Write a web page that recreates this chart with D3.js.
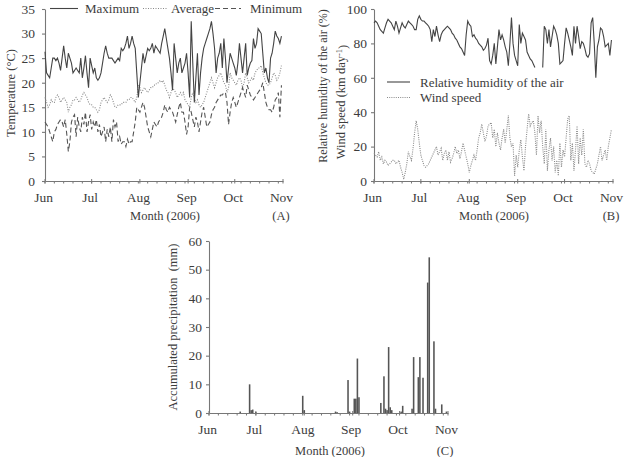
<!DOCTYPE html>
<html><head><meta charset="utf-8">
<script src="https://cdn.jsdelivr.net/npm/d3@7"></script>
<style>
body{margin:0;background:#fff;}
svg text{font-family:"Liberation Serif","Times New Roman",serif;fill:#3c3c3c;}
</style></head><body>
<svg id="c" width="624" height="457"></svg>
<script>
// ---------- DATA (daily, 1 Jun 2006 – 31 Oct 2006) ----------
const monthLabels = ["Jun","Jul","Aug","Sep","Oct","Nov"];
const tempTicks = [0,5,10,15,20,25,30,35];
const rhTicks = [0,20,40,60,80,100];
const precTicks = [0,10,20,30,40,50,60];

const tempMax = [26.3,22,21.5,21,23,25,25,24.5,25,24,22.5,25,27.5,25,23,26,25,24,22,22.5,
23,22.5,22,25,21,23,25.5,22,19,25,23.5,22,23,21,20.5,21,22,24,26,27.5,
26,25,25,25,24.5,24,24.5,25,24.5,27,26.5,27,28,29.5,27,28,29.5,28,27,22,
17,20,23,26,24,25.5,27,26.5,27,28,26,27.5,27,26.5,26,28,29.5,31,29,27,
25,22,18.5,28,25,22,24,25,22,23,24,26,22,17,32.5,24,16,21,26,17.5,
22,25,27,28,29,30,31,32.5,30,27,22,25,26,28,23,29,25,20,23,26,
25,24,23,21.5,24,28,25,22,25,28,21.5,23,24,24.5,29,27,28,31,30.5,30,
26,22,23,21,20,25,26,28,30.5,29.5,29,28,29.5];

const tempAvg = [17,16,15,15.5,16.5,16,16,17,17.5,17,16,16.5,17,16.5,16,14,15,15.5,16.5,16.5,
17,16.5,16,16.5,17.5,18,17.5,17,16,15.5,15.5,15,15,14.5,14,14.5,16,16.5,17,16.5,
16,16.5,17.5,17,16,15,15,15.5,15.5,15.5,16,16,16,16.5,16.5,17,17,16.5,16,17,
19.5,19,18,18.5,19,18.5,18,18.5,19,19,19.5,19.5,20,20,20.5,20,20.5,19.5,18.5,18,
17,18,19,18.5,18,17,17.5,18,17.5,18,16.5,16,15.5,15,17,18,17,16,16.5,15.5,
15,15.5,16,17,18,19,20,21,20,19,20,21,21.5,22,21,20,19.5,18,19,22,
21,20.5,20,19.5,20.5,21,20.5,19,20,22,21,20,20.5,21,20.5,22,22.5,23,23,23.5,
22,21,20,19.5,19.5,20,21,22,21.5,20.5,21,22,23.5];

const tempMin = [12,11.5,11,10,9,8,10,10.5,11.5,12,12.5,12,11,12.5,9.5,6,8,12,13,13.5,
9,13,11,10,13,11.5,14,10,12,13.5,10.5,12,11,12.5,10,11.5,9,10,11,8,
10.5,9,11,8,12.5,11,12,8,9,7.5,8,8,7,8.5,7.5,8,8,10,12,15,
14.5,14,15,16,15,13,11,10,9,10.5,12,11.5,11,12,12.5,13,14,15.5,14.5,14,
15,14.5,14,13,12,13.5,15,16,14,14,12,9.5,11,15,14,12.5,11,13,12,10,
12,14,15,13,11,11.5,12,13.5,14.5,15,16,16.5,17,17.5,17.5,18,18,16,11.5,14,
16,17,16,15,16,17,18,19,18,17,19.5,18.5,17.5,17,16.5,17,17.5,18,18.5,19,
20,18,16,15,14.5,14.5,14,15,16.5,17,18,13,19.5];

const humidity = [92,93,92,90,88,87,86,89,92,94,93,92,90,88,93,90,86,89,92,90,
89,91,93,92,91,90,88,88,94,96,94,93,93,92,91,90,88,81,88,84,
90,85,81,85,87,88,89,90,89,88,86,85,83,82,80,78,77,75,73,85,
93,91,90,84,85,83,82,80,79,78,76,77,79,83,70,68,73,80,68,78,
88,82,85,82,78,75,67,80,95,80,73,70,67,91,80,86,84,82,75,73,
71,70,68,66,null,null,null,null,66,90,88,80,88,78,84,90,88,85,80,68,
69,70,80,89,86,82,78,73,90,80,90,84,77,81,80,77,73,72,74,92,
95,80,60,78,82,89,88,84,78,79,80,73,82];

const windSpeed = [16,15,14,17,12,14,10,12,11,9,10,11,12,12,10,11,12,8,5,1,
5,10,17,14,12,19,28,35,30,22,15,12,9,8,9,10,12,14,16,18,
20,15,17,19,12,16,18,12,17,11,13,16,20,16,18,13,17,22,18,14,
10,5,9,12,15,12,18,25,28,33,28,23,26,32,33,34,25,30,20,28,
22,18,25,30,22,30,38,25,20,22,3,15,8,18,24,14,6,20,30,39,
32,34,35,28,15,38,28,35,20,10,30,6,18,25,12,20,5,12,3,22,
8,18,14,25,36,38,12,22,6,18,32,10,25,15,30,10,8,12,10,6,
5,4,7,10,15,20,12,15,18,12,20,25,30];

// precipitation events: day offset from 1 Jun, mm
const precipDay = [20,26,27,28,30,60,61,81,82,89,90,93,94,95,96,110,112,113,114,115,116,117,123,124,130,131,134,135,137,140,141,144,145,149,152];
const precipMm  = [0.5,10,1,1.2,0.3,6,1,0.5,0.3,11.5,0.5,5,5,19,5.5,3.5,12.8,1.5,1,23,2,1,0.5,2.5,1.5,19.5,12.5,19.5,12.3,45.5,54.3,25,1.5,3,0.5];

// ---------- DRAW ----------
const svg = d3.select("#c");
const t0 = new Date(Date.UTC(2006,5,1)), t1 = new Date(Date.UTC(2006,10,1));
const dayDate = i => new Date(Date.UTC(2006,5,1+i));
const months = d3.utcMonth.range(t0, d3.utcDay.offset(t1,1));
const minorDays = d3.range(0,154,6).map(dayDate);
const axisCol = "#777";

function panel(xr, yr, yDomain, yTicks, yPad, xTitleX, letter, letterX, titleY) {
  const x = d3.scaleUtc().domain([t0,t1]).range(xr);
  const y = d3.scaleLinear().domain(yDomain).range(yr);
  const g = svg.append("g");
  const ya = g.append("g").attr("transform",`translate(${xr[0]},0)`)
    .call(d3.axisLeft(y).tickValues(yTicks).tickSize(3).tickSizeOuter(0).tickPadding(yPad));
  const xa = g.append("g").attr("transform",`translate(0,${yr[0]})`)
    .call(d3.axisBottom(x).tickValues(months).tickFormat((d,i)=>monthLabels[i]).tickSize(0).tickPadding(11).tickSizeOuter(0));
  xa.selectAll(".tick text").attr("dx",-2);
  g.append("g").selectAll("line").data(minorDays).join("line")
    .attr("x1",d=>x(d)).attr("x2",d=>x(d)).attr("y1",yr[0]).attr("y2",yr[0]+2.5)
    .attr("stroke",axisCol).attr("stroke-width",1);
  g.append("g").selectAll("line").data(months).join("line")
    .attr("x1",d=>x(d)).attr("x2",d=>x(d)).attr("y1",yr[0]-2).attr("y2",yr[0]+2.5)
    .attr("stroke",axisCol).attr("stroke-width",1);
  [ya,xa].forEach(a=>{
    a.selectAll("path,line").attr("stroke",axisCol).attr("stroke-width",1.1);
    a.selectAll("text").style("font-size","13.5px").attr("fill","#3c3c3c");
  });
  g.append("text").attr("x",xTitleX).attr("y",titleY).attr("text-anchor","middle")
    .style("font-size","12.5px").text("Month (2006)");
  g.append("text").attr("x",letterX).attr("y",titleY).attr("text-anchor","middle")
    .style("font-size","12.5px").text(letter);
  return {x,y,g};
}

// Panel A: temperature
const A = panel([45,283],[181,9],[0,35],tempTicks,7,165,"(A)",281,220);
const lineA = arr => d3.line().x((d,i)=>A.x(dayDate(i))).y(d=>A.y(d))(arr);
A.g.append("path").attr("d",lineA(tempAvg)).attr("fill","none").attr("stroke","#8a8a8a")
  .attr("stroke-width",1.1).attr("stroke-dasharray","1,1.5");
A.g.append("path").attr("d",lineA(tempMin)).attr("fill","none").attr("stroke","#555")
  .attr("stroke-width",1.1).attr("stroke-dasharray","5,3");
A.g.append("path").attr("d",lineA(tempMax)).attr("fill","none").attr("stroke","#444")
  .attr("stroke-width",1.1);
A.g.append("text").attr("transform","translate(11,93) rotate(-90)").attr("text-anchor","middle")
  .attr("dy","0.35em").style("font-size","12.5px").text("Temperature (°C)");
const legA = [
  {label:"Maximum", x1:50, x2:78, tx:85, dash:null, col:"#444"},
  {label:"Average", x1:143, x2:168, tx:171, dash:"1,1.5", col:"#8a8a8a"},
  {label:"Minimum", x1:215, x2:241, tx:250, dash:"5,3", col:"#555"}
];
legA.forEach(l=>{
  A.g.append("line").attr("x1",l.x1).attr("x2",l.x2).attr("y1",8.5).attr("y2",8.5)
    .attr("stroke",l.col).attr("stroke-width",1.1).attr("stroke-dasharray",l.dash);
  A.g.append("text").attr("x",l.tx).attr("y",8.5).attr("dy","0.35em")
    .style("font-size","13px").text(l.label);
});

// Panel B: humidity & wind
const B = panel([374,613],[181,9],[0,100],rhTicks,4,494,"(B)",611,220);
B.g.append("path").datum(windSpeed)
  .attr("d",d3.line().x((d,i)=>B.x(dayDate(i))).y(d=>B.y(d)))
  .attr("fill","none").attr("stroke","#8a8a8a").attr("stroke-width",1.1).attr("stroke-dasharray","1,1.2");
B.g.append("path").datum(humidity)
  .attr("d",d3.line().defined(d=>d!=null).x((d,i)=>B.x(dayDate(i))).y(d=>B.y(d)))
  .attr("fill","none").attr("stroke","#444").attr("stroke-width",1.1);
B.g.append("text").attr("transform","translate(323,86) rotate(-90)").attr("text-anchor","middle")
  .attr("dy","0.35em").style("font-size","12px").text("Relative humidity of the air (%)");
const wt = B.g.append("text").attr("transform","translate(341,102) rotate(-90)").attr("text-anchor","middle")
  .attr("dy","0.35em").style("font-size","12.5px");
wt.append("tspan").text("Wind speed (km day");
wt.append("tspan").attr("dy","-0.45em").style("font-size","8.5px").text("-1");
wt.append("tspan").attr("dy","0.45em").text(")");
[{label:"Relative humidity of the air", y:82, dash:null, col:"#444"},
 {label:"Wind speed", y:97.5, dash:"1,1.2", col:"#8a8a8a"}].forEach(l=>{
  B.g.append("line").attr("x1",387).attr("x2",410).attr("y1",l.y).attr("y2",l.y)
    .attr("stroke",l.col).attr("stroke-width",1.1).attr("stroke-dasharray",l.dash);
  B.g.append("text").attr("x",420).attr("y",l.y).attr("dy","0.35em")
    .style("font-size","13px").text(l.label);
});

// Panel C: precipitation
const C = panel([209,448],[413,241],[0,60],precTicks,4,330,"(C)",445,455);
const bw = C.x(dayDate(1)) - C.x(dayDate(0));
C.g.append("g").selectAll("rect").data(precipDay.map((d,i)=>({d, v:precipMm[i]}))).join("rect")
  .attr("x",p=>C.x(dayDate(p.d)) - bw/2).attr("width",bw)
  .attr("y",p=>C.y(p.v)).attr("height",p=>C.y(0)-C.y(p.v))
  .attr("fill","#555");
C.g.append("text").attr("transform","translate(173,327) rotate(-90)").attr("text-anchor","middle")
  .attr("dy","0.35em").style("font-size","12.5px").style("white-space","pre")
  .text("Accumulated precipitation  (mm)");
</script>
</body></html>
